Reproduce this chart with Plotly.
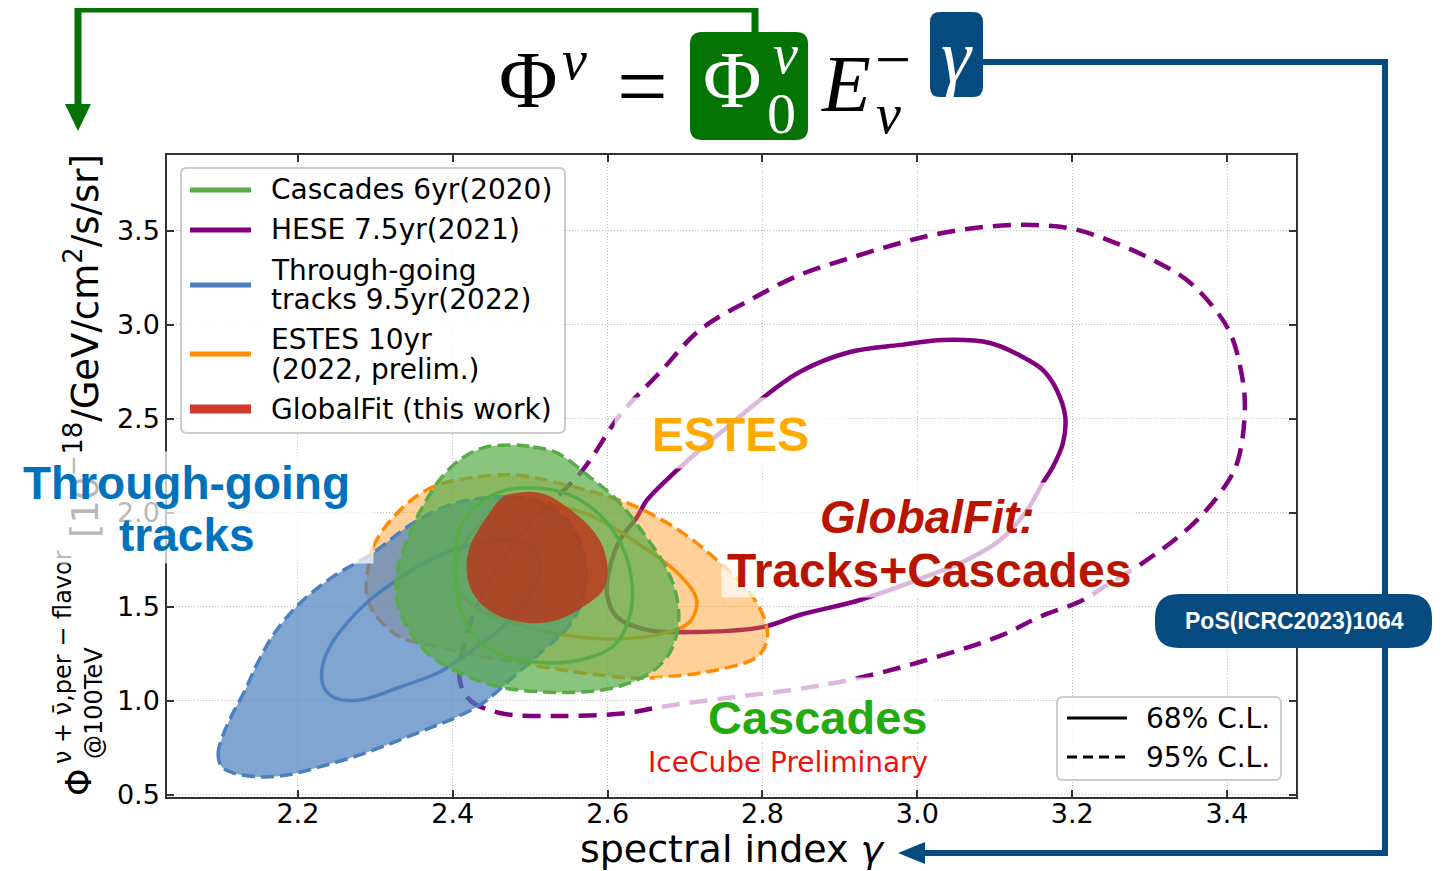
import plotly.graph_objects as go

# ---------------- data ----------------
gamma_ticks = [2.2, 2.4, 2.6, 2.8, 3.0, 3.2, 3.4]
flux_ticks = [0.5, 1.0, 1.5, 2.0, 2.5, 3.0, 3.5]

hese95_gamma = [2.409, 2.422, 2.461, 2.538, 2.625, 2.668, 2.754, 2.839, 2.913, 3.003,
                3.107, 3.158, 3.214, 3.249, 3.291, 3.352, 3.391, 3.413, 3.423, 3.417,
                3.404, 3.382, 3.348, 3.304, 3.253, 3.201, 3.149, 3.085, 3.020, 2.978,
                2.913, 2.848, 2.784, 2.719, 2.668, 2.616, 2.568, 2.509, 2.467, 2.435, 2.416]
hese95_flux = [1.112, 1.005, 0.936, 0.920, 0.936, 0.968, 1.016, 1.059, 1.112, 1.207,
               1.346, 1.447, 1.537, 1.628, 1.734, 1.926, 2.106, 2.266, 2.564, 2.777,
               2.957, 3.096, 3.239, 3.346, 3.441, 3.511, 3.532, 3.521, 3.479, 3.436,
               3.356, 3.266, 3.133, 2.973, 2.750, 2.521, 2.229, 1.979, 1.777, 1.537, 1.325]

hese68_gamma = [2.599, 2.603, 2.616, 2.638, 2.651, 2.680, 2.719, 2.758, 2.797, 2.848,
                2.913, 2.978, 3.033, 3.094, 3.136, 3.162, 3.180, 3.191, 3.188, 3.175,
                3.162, 3.142, 3.107, 3.064, 3.000, 2.926, 2.848, 2.801, 2.719, 2.651, 2.612]
hese68_flux = [1.574, 1.713, 1.856, 1.979, 2.069, 2.191, 2.335, 2.468, 2.601, 2.750,
               2.856, 2.894, 2.920, 2.904, 2.830, 2.761, 2.654, 2.511, 2.372, 2.245,
               2.160, 2.016, 1.856, 1.750, 1.644, 1.537, 1.457, 1.394, 1.367, 1.378, 1.447]

estes95_gamma = [2.289, 2.297, 2.332, 2.374, 2.431, 2.483, 2.535, 2.603, 2.646, 2.697,
                 2.741, 2.784, 2.803, 2.806, 2.793, 2.741, 2.677, 2.633, 2.568, 2.516,
                 2.439, 2.371, 2.332, 2.302, 2.289]
estes95_flux = [1.644, 1.819, 2.016, 2.138, 2.191, 2.202, 2.160, 2.085, 2.016, 1.894,
                1.750, 1.574, 1.431, 1.325, 1.234, 1.165, 1.128, 1.122, 1.149, 1.181,
                1.234, 1.298, 1.340, 1.447, 1.553]

estes68_gamma = [2.403, 2.422, 2.461, 2.513, 2.577, 2.642, 2.693, 2.715, 2.706, 2.674,
                 2.616, 2.551, 2.487, 2.435, 2.409]
estes68_flux = [1.697, 1.883, 2.005, 2.043, 1.989, 1.830, 1.670, 1.537, 1.420, 1.362,
                1.330, 1.346, 1.404, 1.484, 1.580]

tracks95_gamma = [2.102, 2.097, 2.102, 2.115, 2.132, 2.148, 2.170, 2.203, 2.245, 2.297,
                  2.345, 2.396, 2.454, 2.506, 2.545, 2.568, 2.571, 2.551, 2.513, 2.474,
                  2.439, 2.403, 2.374, 2.332, 2.280, 2.228, 2.186, 2.151, 2.116]
tracks95_flux = [0.649, 0.713, 0.803, 0.926, 1.059, 1.202, 1.362, 1.521, 1.660, 1.787,
                 1.936, 2.043, 2.085, 2.069, 1.973, 1.803, 1.590, 1.404, 1.255, 1.112,
                 0.989, 0.910, 0.862, 0.793, 0.713, 0.649, 0.606, 0.596, 0.617]

tracks68_gamma = [2.231, 2.241, 2.267, 2.293, 2.332, 2.371, 2.416, 2.467, 2.500, 2.513,
                  2.500, 2.467, 2.422, 2.383, 2.332, 2.280, 2.248, 2.234]
tracks68_flux = [1.165, 1.287, 1.431, 1.537, 1.654, 1.750, 1.824, 1.856, 1.830, 1.723,
                 1.564, 1.404, 1.261, 1.154, 1.074, 1.005, 1.016, 1.069]

casc95_gamma = [2.474, 2.504, 2.535, 2.577, 2.612, 2.646, 2.677, 2.690, 2.691, 2.680,
                2.655, 2.612, 2.568, 2.516, 2.461, 2.409, 2.367, 2.341, 2.328, 2.328,
                2.341, 2.361, 2.383, 2.409, 2.439]
casc95_flux = [2.362, 2.351, 2.319, 2.191, 2.069, 1.894, 1.697, 1.537, 1.394, 1.255,
               1.149, 1.074, 1.048, 1.048, 1.074, 1.149, 1.255, 1.394, 1.537, 1.681,
               1.856, 2.032, 2.176, 2.282, 2.346]

casc68_gamma = [2.403, 2.407, 2.422, 2.454, 2.506, 2.564, 2.609, 2.629, 2.631, 2.618,
                2.590, 2.551, 2.506, 2.461, 2.425, 2.407]
casc68_flux = [1.750, 1.537, 1.378, 1.261, 1.207, 1.218, 1.298, 1.457, 1.644, 1.830,
               1.989, 2.096, 2.133, 2.112, 2.016, 1.894]

gf_gamma = [2.496, 2.465, 2.444, 2.422, 2.418, 2.426, 2.452, 2.496, 2.535, 2.568,
            2.594, 2.600, 2.594, 2.577, 2.547, 2.522]
gf_flux = [2.112, 2.085, 1.979, 1.819, 1.697, 1.574, 1.468, 1.415, 1.431, 1.500,
           1.590, 1.697, 1.819, 1.926, 2.032, 2.096]

legend_labels = [["Cascades 6yr(2020)"], ["HESE 7.5yr(2021)"],
                 ["Through-going", "tracks 9.5yr(2022)"],
                 ["ESTES 10yr", "(2022, prelim.)"], ["GlobalFit (this work)"]]
cl_labels = ["68% C.L.", "95% C.L."]

# ---------------- styling ----------------
PURPLE = "#800080"
BLUE = "#4c7fbe"
GREEN = "#58ac48"
ORANGE = "#ff8c00"
RED = "#d0392b"
NAVY = "#064b7f"
DGREEN = "#037303"

# the page body adds an 8px margin, so the figure is 8px smaller
W, H = 1435, 863
L, R, T, B = 159, 147, 147, 74
PW, PH = W - L - R, H - T - B


# helpers converting reference-screen pixels to paper coordinates
def px(x):
    return (x - 8 - L) / PW


def py(y):
    return (H - B - (y - 8)) / PH


def closed(a):
    return list(a) + [a[0]]


fig = go.Figure()


def contour(gx, fy, color, width, dash, fill=None):
    fig.add_trace(go.Scatter(
        x=closed(gx), y=closed(fy), mode="lines",
        line=dict(color=color, width=width, dash=dash, shape="spline", smoothing=1.0),
        fill="toself" if fill else None, fillcolor=fill,
        showlegend=False, hoverinfo="skip"))


DASH_BIG = "18px,10px"
DASH = "13px,6px"
contour(hese95_gamma, hese95_flux, PURPLE, 4.5, DASH_BIG)
contour(hese68_gamma, hese68_flux, PURPLE, 4.5, "solid")
contour(estes95_gamma, estes95_flux, ORANGE, 3.5, DASH, "rgba(255,140,0,0.4)")
contour(estes68_gamma, estes68_flux, ORANGE, 3.5, "solid")
contour(tracks95_gamma, tracks95_flux, BLUE, 3.5, DASH, "rgba(76,127,190,0.7)")
contour(tracks68_gamma, tracks68_flux, BLUE, 3.5, "solid")
contour(casc95_gamma, casc95_flux, GREEN, 3.5, DASH, "rgba(88,172,72,0.7)")
contour(casc68_gamma, casc68_flux, GREEN, 3.5, "solid")
contour(gf_gamma, gf_flux, "rgba(0,0,0,0)", 0.1, "solid", "rgba(192,44,20,0.76)")


def P(x, y):
    return f"{px(x):.5f},{py(y):.5f}"


def rrect(x0, y0, x1, y1, r):
    return (f"M{P(x0 + r, y0)} L{P(x1 - r, y0)} Q{P(x1, y0)} {P(x1, y0 + r)} "
            f"L{P(x1, y1 - r)} Q{P(x1, y1)} {P(x1 - r, y1)} L{P(x0 + r, y1)} "
            f"Q{P(x0, y1)} {P(x0, y1 - r)} L{P(x0, y0 + r)} Q{P(x0, y0)} {P(x0 + r, y0)} Z")


shapes = []


def pshape(path, fill=None, line=None, lw=0, dash="solid", layer="above"):
    d = dict(type="path", path=path, xref="paper", yref="paper", layer=layer,
             line=dict(color=line if line else "rgba(0,0,0,0)", width=lw, dash=dash))
    if fill:
        d["fillcolor"] = fill
    shapes.append(d)


# connector lines and arrows
pshape(f"M{P(755, 34)} L{P(755, 9)} L{P(78, 9)} L{P(78, 108)}", line=DGREEN, lw=7)
pshape(f"M{P(65, 104)} L{P(91, 104)} L{P(78, 131)} Z", fill=DGREEN)
pshape(f"M{P(982, 62)} L{P(1385, 62)} L{P(1385, 853)} L{P(922, 853)}", line=NAVY, lw=6)
pshape(f"M{P(925, 842)} L{P(925, 864)} L{P(898, 853)} Z", fill=NAVY)
# equation boxes
pshape(rrect(690, 32, 808, 140, 12), fill=DGREEN)
pshape(rrect(930, 12, 983, 97, 10), fill=NAVY)
# PoS box
pshape(rrect(1155, 594, 1432, 648, 24), fill=NAVY)

# legends (drawn boxes)
pshape(rrect(181, 168, 565, 433, 6), fill="rgba(255,255,255,0.85)", line="#cccccc", lw=2)
leg_colors = [GREEN, PURPLE, BLUE, ORANGE, RED]
leg_y = [190, 230, 285, 354, 409]
leg_w = [5, 5, 5, 5, 9]
for c, yy, w in zip(leg_colors, leg_y, leg_w):
    pshape(f"M{P(190, yy)} L{P(251, yy)}", line=c, lw=w)
pshape(rrect(1057, 697, 1281, 780, 6), fill="rgba(255,255,255,0.85)", line="#cccccc", lw=2)
pshape(f"M{P(1067, 718)} L{P(1127, 718)}", line="black", lw=3)
pshape(f"M{P(1067, 757)} L{P(1127, 757)}", line="black", lw=3, dash="10px,6px")

anns = []


def txt(text, x, y, size, color="black", family="DejaVu Sans", xa="center", ya="middle",
        angle=0):
    anns.append(dict(text=text, x=px(x), y=py(y), xref="paper", yref="paper",
                     xanchor=xa, yanchor=ya, showarrow=False, textangle=angle,
                     font=dict(family=family, size=size, color=color)))


def box(x0, y0, x1, y1, alpha=0.72):
    anns.append(dict(text=" ", x=px((x0 + x1) / 2), y=py((y0 + y1) / 2), xref="paper",
                     yref="paper", xanchor="center", yanchor="middle", showarrow=False,
                     width=x1 - x0, height=y1 - y0, borderpad=0,
                     bgcolor=f"rgba(255,255,255,{alpha})"))


# y-axis title pieces (rotated)
txt("Φ", 79, 782, 35, angle=-90)
txt("ν + ν̄,per − flavor", 63, 657, 24, angle=-90)
txt("@100TeV", 94, 703, 24, angle=-90)
txt("[10<sup>−18</sup>/GeV/cm<sup>2</sup>/s/sr]", 82, 346, 37, angle=-90)

# semi-transparent label backgrounds
box(15, 452, 373, 563)
box(615, 398, 845, 468)
box(722, 483, 1135, 597)
box(655, 678, 935, 742)

SANS = "Liberation Sans"
txt("<b>Through-going</b>", 186, 483, 46, "#0072bc", SANS)
txt("<b>tracks</b>", 187, 535, 46, "#0072bc", SANS)
txt("<b>ESTES</b>", 730, 434, 48, "#ffaa00", SANS)
txt("<b><i>GlobalFit:</i></b>", 927, 517, 46, "#b81400", SANS)
txt("<b>Tracks+Cascades</b>", 929, 570, 48, "#b81400", SANS)
txt("<b>Cascades</b>", 818, 717, 47, "#22aa10", SANS)
txt("IceCube Preliminary", 788, 762, 28, "#f01010")
txt("<b>PoS(ICRC2023)1064</b>", 1294, 621, 23, "white", SANS)

# legend texts
leg_text_y = [[190], [230], [270, 299], [339, 369], [409]]
for lines, ys in zip(legend_labels, leg_text_y):
    for s, yy in zip(lines, ys):
        txt(s, 269, yy, 28, xa="left")
for s, yy in zip(cl_labels, [718, 757]):
    txt(s, 1144, yy, 28, xa="left")

# equation
SERIF = "Liberation Serif"
txt("Φ", 528, 80, 80, "black", SERIF)
txt("<i>ν</i>", 574, 60, 56, "black", SERIF)
txt("=", 642, 86, 90, "black", SERIF)
txt("Φ", 732, 80, 80, "white", SERIF)
txt("<i>ν</i>", 785, 54, 56, "white", SERIF)
txt("0", 781, 113, 58, "white", SERIF)
txt("<i>E</i>", 846, 84, 80, "black", SERIF)
txt("−", 893, 60, 64, "black", SERIF)
txt("<i>ν</i>", 888, 114, 56, "black", SERIF)
txt("<i>γ</i>", 957, 56, 76, "white", SERIF)

axis_common = dict(showline=True, linecolor="#333333", linewidth=1.5, mirror="allticks",
                   ticks="inside", ticklen=7, tickwidth=1.5, tickcolor="#333333",
                   showgrid=True, gridcolor="#bdbdbd", gridwidth=1, griddash="1px,2px",
                   zeroline=False, tickfont=dict(family="DejaVu Sans", size=27, color="black"))

fig.update_layout(
    width=W, height=H, margin=dict(l=L, r=R, t=T, b=B, autoexpand=False),
    paper_bgcolor="white", plot_bgcolor="white", showlegend=False,
    xaxis=dict(range=[2.031, 3.489], tickvals=gamma_ticks,
               ticktext=[f"{v:.1f}" for v in gamma_ticks], ticklabelstandoff=-8,
               title=dict(text="spectral index <i>γ</i>", standoff=14,
                          font=dict(family="DejaVu Sans", size=38, color="black")),
               **axis_common),
    yaxis=dict(range=[0.489, 3.904], tickvals=flux_ticks,
               ticktext=[f"{v:.1f}" for v in flux_ticks], **axis_common),
    shapes=shapes, annotations=anns,
)

fig.write_html("out.html")
